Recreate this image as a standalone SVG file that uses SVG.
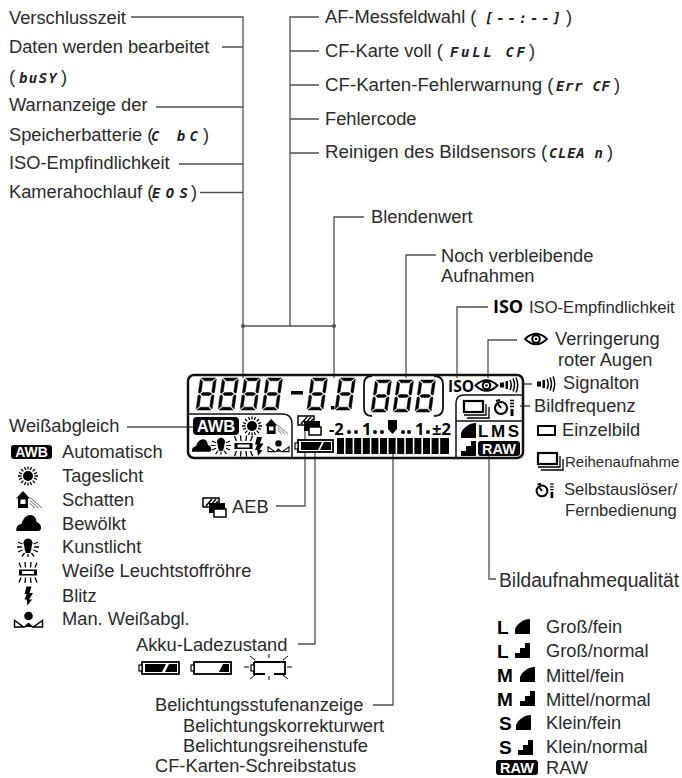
<svg xmlns="http://www.w3.org/2000/svg" width="682" height="778" viewBox="0 0 682 778">
<style>
.t{font-family:"Liberation Sans",Arial,sans-serif;font-size:18.3px;fill:#2b2b2b}
.n{font-size:16.6px}
.seg{font-family:"DejaVu Sans Mono",monospace;font-style:italic;font-weight:bold;font-size:14px;fill:#222}
.b{font-family:"Open Sans","Noto Sans",sans-serif;font-weight:700;fill:#000}
.q{font-family:"Liberation Sans",Arial,sans-serif;font-weight:700;font-size:19px;fill:#000}
.w{font-family:"Liberation Sans",sans-serif;font-weight:700;fill:#fff}
.l{fill:none;stroke:#505050;stroke-width:1.3}
.k{fill:none;stroke:#000}
.f{fill:#000}
</style>
<defs>
<g id="digit" class="f" stroke="#000" stroke-width=".5" transform="skewX(-8)">
<polygon points="1.5,0 15.5,0 12.5,2.8 4.5,2.8"/>
<polygon points="1.5,32 15.5,32 12.5,29.2 4.5,29.2"/>
<polygon points="3,16 5,14.6 12,14.6 14,16 12,17.4 5,17.4"/>
<polygon points="0.5,1 3.2,3.8 3.2,13.6 1.8,15.2 0.5,14.5"/>
<polygon points="0.5,31 3.2,28.2 3.2,18.4 1.8,16.8 0.5,17.5"/>
<polygon points="16.5,1 13.8,3.8 13.8,13.6 15.2,15.2 16.5,14.5"/>
<polygon points="16.5,31 13.8,28.2 13.8,18.4 15.2,16.8 16.5,17.5"/>
</g>
<g id="sun"><circle r="5" class="f"/><path class="k" stroke-width="1.3" d="M-10,0H-6.5M6.5,0H10M0,-9.5V-6.5M0,6.5V9.5M-7,-7L-4.6,-4.6M7,-7L4.6,-4.6M-7,7L-4.6,4.6M7,7L4.6,4.6M-9,-3.5L-6,-2.2M9,-3.5L6,-2.2M-9,3.5L-6,2.2M9,3.5L6,2.2M-3.5,-9L-2.2,-6M3.5,-9L2.2,-6M-3.5,9L-2.2,6M3.5,9L2.2,6"/></g>
<g id="house"><path class="f" d="M-13,-1L-6,-8.5L1,-1H-1V8.5H-11V-1Z"/><rect x="-8.5" y="0" width="5" height="4.5" fill="#fff"/><path fill="none" stroke="#666" stroke-width="1" d="M1,-2L13,8.5M1,1L9.5,8.5M1,4L6,8.5"/></g>
<path id="cloud" class="f" d="M-12,8C-13,4-10,1-7,1C-6,-3-3,-8,2,-8C6,-8,8,-4,8,-1C11,0,13,3,12.5,5.5C12,8,10,8,8,8Z"/>
<g id="tung"><path class="f" d="M-4,-1A4.5,4.5 0 1 1 4,-1L3,5H-3Z" transform="translate(0,-1)"/><rect x="-2.5" y="5" width="5" height="2" class="f" transform="translate(0,-1)"/><path class="k" stroke-width="1.3" d="M-11,0H-6M6,0H11M-10,-5L-5.5,-3M10,-5L5.5,-3M-10,5L-5.5,3M10,5L5.5,3M-6,9.5L-3.5,6M6,9.5L3.5,6M0,7V10"/></g>
<g id="fluor"><rect x="-9" y="-3" width="18" height="6" class="f"/><rect x="-6" y="-1.5" width="12" height="3" fill="#fff"/><path class="k" stroke-width="1.3" d="M-9,-10L-7,-5M-3,-10.5L-2.5,-5M3,-10.5L2.5,-5M9,-10L7,-5M-9,10L-7,5M-3,10.5L-2.5,5M3,10.5L2.5,5M9,10L7,5"/></g>
<path id="bolt" class="f" d="M-2,-9.5H3L1,-3H4.5L0.5,3.5H3.5L-1,9.5L-1.8,3.5H-4L-1.8,-2H-4Z"/>
<g id="cust"><circle cy="-3.5" r="4.3" class="f"/><path class="k" stroke-width="1.5" d="M-14,7.5V1L-5,7.5ZM14,7.5V1L5,7.5Z"/><path class="f" d="M-5,7.5L0,3L5,7.5Z"/></g>
<path id="tri" class="f" d="M0,15V10C2,5,8,0,15,0V15Z"/>
<path id="stair" class="f" d="M0,15V10H5V5H10V0H15V15Z"/>
<g id="eye"><path class="k" stroke-width="1.8" d="M-11,0Q0,-10.5 11,0Q0,10.5 -11,0Z"/><circle r="4.8" class="f"/><circle r="2.7" fill="#fff"/><circle r="1.3" class="f"/></g>
<g id="beep"><rect x="0" y="-2.5" width="4" height="5" class="f"/><rect x="5.5" y="-4" width="2.5" height="8" class="f"/><path class="k" stroke-width="1.5" d="M10,-5Q12.5,0 10,5M13,-6.5Q16,0 13,6.5M16,-7.5Q19.5,0 16,7.5"/></g>
<g id="conti"><rect x="0" y="0" width="19" height="11" fill="#fff" stroke="#000" stroke-width="2.2"/><path class="k" stroke-width="1.3" d="M0,14H22V3M3,17H25V6"/></g>
<g id="timer"><circle cx="0" cy="1" r="6" fill="none" stroke="#000" stroke-width="2.2"/><path class="k" stroke-width="2" d="M0,1L-3,-3M-5,-6L-1,-7"/><path class="k" stroke-width="1.5" d="M9,-6.5H13M9,-3.5H13M9,-0.5H13"/><rect x="9.5" y="2" width="3" height="7" class="f"/></g>
<g id="aeb"><rect x="0" y="0" width="16" height="9" fill="#fff" stroke="#000" stroke-width="1.5"/><path stroke="#000" stroke-width="1.5" d="M3,8L9,1M7,8L13,1M11,8L15,3"/><rect x="6" y="5" width="16" height="10" class="f"/><rect x="11" y="11" width="12" height="8" fill="#fff" stroke="#000" stroke-width="1.5"/></g>
</defs>

<g id="connectors" class="l">
<path d="M131,17H243V378M222,47H243M156,107H243M179,164H243M200,192.5H243"/>
<path d="M319,17H290V326M319,51H290M319,85H290M319,119H290M319,153H290"/>
<path d="M243,326H334"/>
<path d="M364,217H334V378"/>
<path d="M436,255H406V378"/>
<path d="M488,307H457V378"/>
<path d="M517,340H488V378"/>
<path d="M522,384H532M520,406H530"/>
<path d="M489,455V579H496"/>
<path d="M393,449V705H373"/>
<path d="M305,430V506H276"/>
<path d="M315,451V644H298"/>
<path d="M127,427H193"/>
<circle cx="243" cy="326" r="2" fill="#505050" stroke="none"/>
<circle cx="334" cy="326" r="2" fill="#505050" stroke="none"/>
</g>

<g id="lcd">
<rect x="188" y="375" width="335" height="83" rx="6" fill="none" stroke="#111" stroke-width="2.5"/>
<path d="M188,414H282Q292,414 292,424V458M523,395H464Q456,395 456,403V458M456,421H523" fill="none" stroke="#111" stroke-width="1.5"/>
<use href="#digit" x="200" y="378"/><use href="#digit" x="222" y="378"/><use href="#digit" x="244" y="378"/><use href="#digit" x="266" y="378"/>
<rect x="291" y="391" width="12" height="3.5" class="f"/>
<use href="#digit" x="311" y="378"/><use href="#digit" x="339" y="378"/>
<rect x="331" y="406" width="3.5" height="3.5" class="f"/>
<path d="M372,376Q364,376 364,384V408Q364,416 372,416M434,376Q443,376 443,384V408Q443,416 434,416" fill="none" stroke="#111" stroke-width="1.8"/>
<use href="#digit" x="375" y="380"/><use href="#digit" x="397" y="380"/><use href="#digit" x="419" y="380"/>
<rect x="193" y="417" width="46" height="18" rx="4" class="f"/>
<text class="w" x="216" y="432" font-size="16.5" text-anchor="middle">AWB</text>
<use href="#sun" x="252" y="426"/>
<use href="#house" transform="translate(276.5,426.5) scale(.88)"/>
<use href="#cloud" transform="translate(201.5,445.5) scale(.78)"/>
<use href="#tung" transform="translate(221,445.5) scale(.9)"/>
<use href="#fluor" x="243.5" y="446"/>
<use href="#bolt" x="259" y="446.5"/>
<use href="#cust" transform="translate(278.5,446) scale(.75)"/>
<use href="#aeb" x="298" y="416"/>
<g id="lcd-battery"><rect x="298" y="440" width="35" height="12" fill="#fff" stroke="#000" stroke-width="1.8"/><rect x="295" y="443" width="3" height="6" fill="#fff" stroke="#000" stroke-width="1.2"/><path class="f" d="M301,442H322L318,450H301ZM324,442H331V450H320Z"/></g>
<text class="b" x="329" y="435" font-size="16.5">-2</text>
<text class="b" x="362" y="435" font-size="16.5">1</text>
<text class="b" x="415" y="435" font-size="16.5">1</text>
<text class="b" x="432" y="435" font-size="16.5">±2</text>
<g class="f"><circle cx="349" cy="432" r="2"/><circle cx="356" cy="432" r="2"/><circle cx="375" cy="432" r="2"/><circle cx="382" cy="432" r="2"/><circle cx="403" cy="432" r="2"/><circle cx="409" cy="432" r="2"/><circle cx="428" cy="432" r="2"/>
<path d="M388,420H397V429L392.5,434L388,429Z"/>
<rect x="337" y="438" width="7" height="16"/><rect x="345.6" y="438" width="7" height="16"/><rect x="354.2" y="438" width="7" height="16"/><rect x="362.8" y="438" width="7" height="16"/><rect x="371.4" y="438" width="7" height="16"/><rect x="380" y="438" width="7" height="16"/><rect x="388.6" y="438" width="7" height="16"/><rect x="397.2" y="438" width="7" height="16"/><rect x="405.8" y="438" width="7" height="16"/><rect x="414.4" y="438" width="7" height="16"/><rect x="423" y="438" width="7" height="16"/><rect x="431.6" y="438" width="7" height="16"/><rect x="440.2" y="438" width="8.8" height="16"/></g>
<text class="b" x="448" y="392" font-size="15.5">ISO</text>
<use href="#eye" x="486.5" y="385.5"/>
<use href="#beep" x="500" y="385"/>
<use href="#conti" x="464" y="401"/>
<use href="#timer" x="501" y="407"/>
<use href="#tri" x="461" y="423"/>
<text class="q" x="478" y="437" style="font-size:17px" textLength="41">LMS</text>
<use href="#stair" x="461" y="441"/>
<rect x="478" y="441" width="42" height="15" rx="3" class="f"/>
<text class="w" x="499" y="454" font-size="14.5" text-anchor="middle">RAW</text>
</g>

<g id="left-labels">
<text class="t" x="9" y="24">Verschlusszeit</text>
<text class="t" x="9" y="53">Daten werden bearbeitet</text>
<text class="t" x="9" y="83">(</text><text class="seg" x="19" y="83" textLength="38">buSY</text><text class="t" x="61" y="83">)</text>
<text class="t" x="9" y="111">Warnanzeige der</text>
<text class="t" x="9" y="141">Speicherbatterie (</text><text class="seg" x="151" y="141" textLength="47" xml:space="preserve">C bC</text><text class="t" x="203" y="141">)</text>
<text class="t" x="9" y="169">ISO-Empfindlichkeit</text>
<text class="t" x="9" y="198">Kamerahochlauf (</text><text class="seg" x="152" y="198" textLength="36">EOS</text><text class="t" x="191" y="198">)</text>
</g>
<g id="top-labels">
<text class="t" x="325" y="23">AF-Messfeldwahl (</text><text class="seg" x="485" y="23" textLength="76">[--:--]</text><text class="t" x="566" y="23">)</text>
<text class="t" x="325" y="57">CF-Karte voll (</text><text class="seg" x="450" y="57" textLength="75">FuLL CF</text><text class="t" x="529" y="57">)</text>
<text class="t" x="325" y="91" style="font-size:18.7px">CF-Karten-Fehlerwarnung (</text><text class="seg" x="556" y="91" textLength="54">Err CF</text><text class="t" x="614" y="91">)</text>
<text class="t" x="325" y="125">Fehlercode</text>
<text class="t" x="325" y="158" style="font-size:18.7px">Reinigen des Bildsensors (</text><text class="seg" x="549" y="158" textLength="54">CLEA n</text><text class="t" x="607" y="158">)</text>
<text class="t" x="371" y="223">Blendenwert</text>
<text class="t" x="441" y="262">Noch verbleibende</text>
<text class="t" x="441" y="282">Aufnahmen</text>
</g>
<g id="right-labels">
<text class="b" x="493" y="313" font-size="18">ISO</text>
<text class="t n" x="529" y="313">ISO-Empfindlichkeit</text>
<use href="#eye" x="536" y="339"/>
<text class="t" x="555" y="345">Verringerung</text>
<text class="t" x="558" y="366">roter Augen</text>
<use href="#beep" x="537" y="384"/>
<text class="t" x="563" y="389">Signalton</text>
<text class="t" x="534" y="412">Bildfrequenz</text>
<rect x="538" y="426" width="17" height="9" fill="#fff" stroke="#000" stroke-width="2"/>
<text class="t" x="562" y="436">Einzelbild</text>
<use href="#conti" x="538" y="453"/>
<text class="t" x="565" y="467" style="font-size:15px">Reihenaufnahme</text>
<use href="#timer" transform="translate(542,490) scale(.9)"/>
<text class="t n" x="564" y="495">Selbstauslöser/</text>
<text class="t n" x="565" y="516">Fernbedienung</text>
<text class="t" x="499" y="587" style="font-size:19.3px">Bildaufnahmequalität</text>
</g>
<g id="wb-list">
<text class="t" x="9" y="432">Weißabgleich</text>
<rect x="11" y="445" width="41" height="14" rx="3" class="f"/>
<text class="w" x="31.5" y="456.5" font-size="14" text-anchor="middle">AWB</text>
<text class="t" x="62" y="458">Automatisch</text>
<use href="#sun" x="28" y="476"/><text class="t" x="62" y="482">Tageslicht</text>
<use href="#house" x="29" y="499.5"/><text class="t" x="62" y="506">Schatten</text>
<use href="#cloud" x="28.5" y="523"/><text class="t" x="62" y="530">Bewölkt</text>
<use href="#tung" x="28" y="547"/><text class="t" x="62" y="553">Kunstlicht</text>
<use href="#fluor" x="28" y="572.5"/><text class="t" x="62" y="577">Weiße Leuchtstoffröhre</text>
<use href="#bolt" x="28.5" y="596"/><text class="t" x="62" y="602">Blitz</text>
<use href="#cust" x="28.5" y="619.5"/><text class="t" x="62" y="625">Man. Weißabgl.</text>
</g>
<g id="aeb-label"><use href="#aeb" x="203" y="498"/><text class="t" x="232" y="513">AEB</text></g>
<g id="battery-label">
<text class="t" x="136" y="651">Akku-Ladezustand</text>
<rect x="142" y="662" width="37" height="12" fill="#fff" stroke="#000" stroke-width="1.8"/><rect x="139" y="665" width="3" height="6" fill="#fff" stroke="#000" stroke-width="1.2"/><path class="f" d="M145,664H166L162,672H145ZM169,664H177V672H165Z"/>
<rect x="194" y="662" width="37" height="12" fill="#fff" stroke="#000" stroke-width="1.8"/><rect x="191" y="665" width="3" height="6" fill="#fff" stroke="#000" stroke-width="1.2"/><path class="f" d="M223,664H229V672H219Z"/>
<path fill="none" stroke="#000" stroke-width="1.8" d="M254,662H285V674H274M265,674H254V662"/><rect x="251" y="665" width="3" height="6" fill="#fff" stroke="#000" stroke-width="1.2"/>
<path class="k" stroke-width="1" d="M244,667H249M287,667H292M269,654V658M269,676V680M250,656L255,660M288,656L283,660M250,679L255,675M288,679L283,675"/>
</g>
<g id="exposure-labels">
<text class="t" x="155" y="711">Belichtungsstufenanzeige</text>
<text class="t" x="183" y="732">Belichtungskorrekturwert</text>
<text class="t" x="183" y="752">Belichtungsreihenstufe</text>
<text class="t" x="155" y="772">CF-Karten-Schreibstatus</text>
</g>
<g id="quality-list">
<text class="q" x="497" y="634">L</text><use href="#tri" x="515" y="619"/><text class="t" x="546" y="633">Groß/fein</text>
<text class="q" x="497" y="658">L</text><use href="#stair" x="515" y="643"/><text class="t" x="546" y="657">Groß/normal</text>
<text class="q" x="497" y="682">M</text><use href="#tri" x="520" y="667"/><text class="t" x="546" y="682">Mittel/fein</text>
<text class="q" x="497" y="706">M</text><use href="#stair" x="520" y="691"/><text class="t" x="546" y="706">Mittel/normal</text>
<text class="q" x="499" y="730">S</text><use href="#tri" x="516" y="715"/><text class="t" x="546" y="729">Klein/fein</text>
<text class="q" x="499" y="754">S</text><use href="#stair" x="518" y="740"/><text class="t" x="546" y="753">Klein/normal</text>
<rect x="496" y="760" width="42" height="15" rx="3" class="f"/>
<text class="w" x="517" y="773" font-size="14.5" text-anchor="middle">RAW</text>
<text class="t" x="546" y="774">RAW</text>
</g>
</svg>
